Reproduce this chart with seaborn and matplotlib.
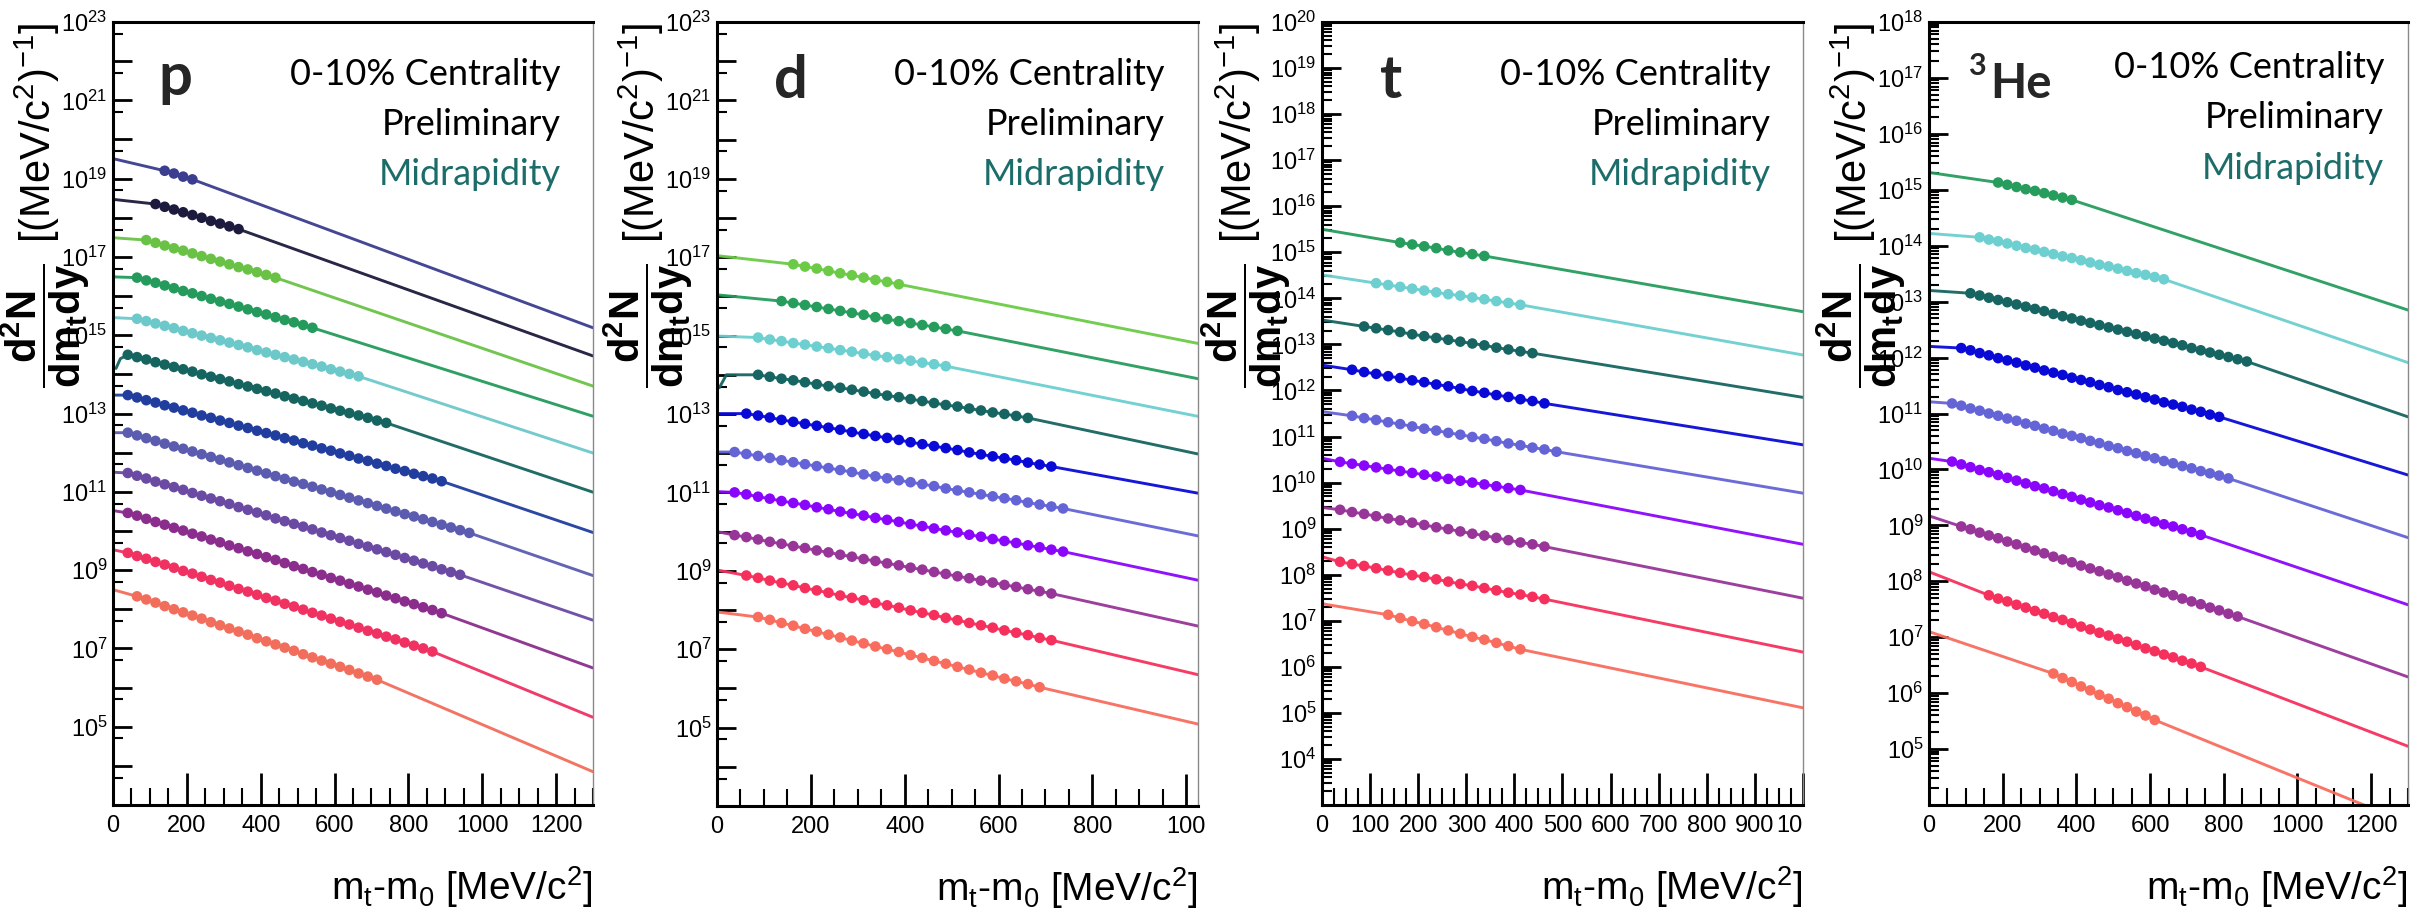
import numpy as np
import pandas as pd
import matplotlib
matplotlib.use("Agg")
import matplotlib.pyplot as plt
import seaborn as sns
from matplotlib import font_manager as fm
from matplotlib.ticker import FixedLocator, FixedFormatter, MultipleLocator, LogLocator, NullFormatter

# ---------------- data (log10 of d2N/dmt dy) ----------------
BIN = 25.0  # MeV, spacing of measured points

# proton
p_head = [[(0, 19.51)], [(0, 18.47)], [(0, 17.49)], [(0, 16.49)], [(0, 15.45)],
          [(8, 14.15), (20, 14.40)], [(0, 13.47)], [(0, 12.51)], [(0, 11.50)],
          [(0, 10.52)], [(0, 9.52)], [(0, 8.50)]]
p_x0 = [140, 115, 90, 65, 65, 40, 40, 40, 40, 40, 40, 65]
p_end = [15.19, 14.47, 13.70, 12.93, 11.99, 10.99, 9.96, 8.86, 7.72, 6.50, 5.24, 3.85]
p_s1 = [19.20, 19.13, 19.05, 18.98]
p_s2 = [18.35, 18.28, 18.21, 18.14, 18.07, 18.00, 17.92, 17.85, 17.78, 17.71]
p_s3 = [17.43, 17.36, 17.29, 17.22, 17.16, 17.09, 17.02, 16.95, 16.88, 16.81, 16.74, 16.68, 16.61, 16.54, 16.47]
p_s4 = [16.47, 16.40, 16.34, 16.27, 16.20, 16.13, 16.07, 16.00, 15.93, 15.86, 15.80, 15.73, 15.66, 15.59,
        15.53, 15.46, 15.39, 15.33, 15.26, 15.19]
p_s5 = [15.42, 15.36, 15.30, 15.24, 15.18, 15.11, 15.05, 14.99, 14.93, 14.87, 14.81, 14.75, 14.69, 14.62,
        14.56, 14.50, 14.44, 14.38, 14.32, 14.26, 14.20, 14.13, 14.07, 14.01, 13.95]
p_s6 = [14.50, 14.44, 14.38, 14.31, 14.25, 14.19, 14.13, 14.07, 14.00, 13.94, 13.88, 13.82, 13.75, 13.69,
        13.63, 13.57, 13.51, 13.44, 13.38, 13.32, 13.26, 13.20, 13.13, 13.07, 13.01, 12.95, 12.89, 12.82, 12.76]
p_s7 = [13.47, 13.41, 13.34, 13.28, 13.21, 13.15, 13.08, 13.02, 12.95, 12.89, 12.82, 12.76, 12.69, 12.63,
        12.56, 12.50, 12.44, 12.37, 12.31, 12.24, 12.18, 12.11, 12.05, 11.98, 11.92, 11.85, 11.79, 11.72,
        11.66, 11.59, 11.53, 11.46, 11.40, 11.34, 11.27]
p_s8 = [12.51, 12.44, 12.37, 12.30, 12.23, 12.16, 12.10, 12.03, 11.96, 11.89, 11.82, 11.75, 11.68, 11.61,
        11.54, 11.47, 11.40, 11.33, 11.26, 11.20, 11.13, 11.06, 10.99, 10.92, 10.85, 10.78, 10.71, 10.64,
        10.57, 10.50, 10.43, 10.37, 10.30, 10.23, 10.16, 10.09, 10.02, 9.95]
p_s9 = [11.48, 11.41, 11.34, 11.26, 11.19, 11.12, 11.05, 10.97, 10.90, 10.83, 10.76, 10.69, 10.61, 10.54,
        10.47, 10.40, 10.32, 10.25, 10.18, 10.11, 10.04, 9.96, 9.89, 9.82, 9.75, 9.67, 9.60, 9.53, 9.46,
        9.39, 9.31, 9.24, 9.17, 9.10, 9.02, 8.95, 8.88]
p_s10 = [10.46, 10.39, 10.31, 10.23, 10.16, 10.08, 10.01, 9.93, 9.86, 9.78, 9.71, 9.63, 9.56, 9.48, 9.41,
         9.33, 9.26, 9.18, 9.10, 9.03, 8.95, 8.88, 8.80, 8.73, 8.65, 8.58, 8.50, 8.43, 8.35, 8.28, 8.20,
         8.13, 8.05, 7.98, 7.90]
p_s11 = [9.44, 9.36, 9.29, 9.21, 9.14, 9.06, 8.98, 8.91, 8.83, 8.75, 8.68, 8.60, 8.52, 8.45, 8.37, 8.29,
         8.22, 8.14, 8.07, 7.99, 7.91, 7.84, 7.76, 7.68, 7.61, 7.53, 7.45, 7.38, 7.30, 7.23, 7.15, 7.07,
         7.00, 6.92]
p_s12 = [8.33, 8.25, 8.17, 8.08, 8.00, 7.92, 7.84, 7.76, 7.67, 7.59, 7.51, 7.43, 7.35, 7.26, 7.18, 7.10,
         7.02, 6.94, 6.85, 6.77, 6.69, 6.61, 6.53, 6.45, 6.36, 6.28, 6.20]
p_colors = ['#3b3d8e', '#1c1b3d', '#69c246', '#249b5c', '#6dc8ca', '#15645f',
            '#213e9e', '#5b5caf', '#6a4aa3', '#8b2d8c', '#ef3262', '#f26e5c']

# deuteron
d_head = [[(0, 17.04)], [(0, 16.04)], [(0, 14.99)], [(5, 13.67), (20, 14.00)], [(0, 13.01)],
          [(0, 12.03)], [(0, 11.02)], [(0, 10.00)], [(0, 9.02)], [(0, 7.95)]]
d_x0 = [162.5, 137.5, 87.5, 87.5, 62.5, 37.5, 37.5, 37.5, 62.5, 87.5]
d_end = [14.80, 13.90, 12.94, 11.98, 10.98, 9.89, 8.76, 7.59, 6.35, 5.09]
d_s1 = [16.82, 16.76, 16.71, 16.65, 16.59, 16.54, 16.48, 16.42, 16.37, 16.31]
d_s2 = [15.88, 15.83, 15.78, 15.73, 15.68, 15.63, 15.58, 15.53, 15.47, 15.42, 15.37, 15.32, 15.27, 15.22,
        15.17, 15.12]
d_s3 = [14.95, 14.90, 14.86, 14.81, 14.77, 14.72, 14.68, 14.63, 14.59, 14.54, 14.49, 14.45, 14.40, 14.36,
        14.31, 14.27, 14.22]
d_s4 = [14.00, 13.95, 13.90, 13.86, 13.81, 13.76, 13.71, 13.67, 13.62, 13.57, 13.52, 13.47, 13.43, 13.38,
        13.33, 13.28, 13.23, 13.19, 13.14, 13.09, 13.04, 13.00, 12.95, 12.90]
d_s5 = [13.01, 12.96, 12.91, 12.85, 12.80, 12.75, 12.70, 12.65, 12.60, 12.54, 12.49, 12.44, 12.39, 12.34,
        12.28, 12.23, 12.18, 12.13, 12.08, 12.02, 11.97, 11.92, 11.87, 11.82, 11.76, 11.71, 11.66]
d_s6 = [12.03, 11.98, 11.93, 11.88, 11.82, 11.77, 11.72, 11.67, 11.62, 11.57, 11.52, 11.46, 11.41, 11.36,
        11.31, 11.26, 11.21, 11.16, 11.10, 11.05, 11.00, 10.95, 10.90, 10.85, 10.80, 10.74, 10.69, 10.64, 10.59]
d_s7 = [11.00, 10.95, 10.89, 10.84, 10.78, 10.73, 10.68, 10.62, 10.57, 10.51, 10.46, 10.41, 10.35, 10.30,
        10.25, 10.19, 10.14, 10.08, 10.03, 9.98, 9.92, 9.87, 9.81, 9.76, 9.71, 9.65, 9.60, 9.54, 9.49]
d_s8 = [9.91, 9.86, 9.80, 9.74, 9.69, 9.63, 9.58, 9.52, 9.47, 9.41, 9.36, 9.30, 9.25, 9.19, 9.14, 9.08,
        9.03, 8.97, 8.92, 8.86, 8.81, 8.75, 8.70, 8.64, 8.59, 8.53, 8.48, 8.42]
d_s9 = [8.88, 8.82, 8.75, 8.69, 8.63, 8.56, 8.50, 8.44, 8.37, 8.31, 8.25, 8.18, 8.12, 8.06, 7.99, 7.93,
        7.87, 7.80, 7.74, 7.67, 7.61, 7.55, 7.48, 7.42, 7.36, 7.29, 7.23]
d_s10 = [7.82, 7.75, 7.67, 7.60, 7.52, 7.45, 7.37, 7.30, 7.22, 7.15, 7.07, 7.00, 6.93, 6.85, 6.78, 6.70,
         6.63, 6.55, 6.48, 6.40, 6.33, 6.25, 6.18, 6.11, 6.03]
d_colors = ['#6bcb47', '#269c5d', '#6dcfcf', '#166562', '#0a0ad6',
            '#6464d6', '#8a06fb', '#983598', '#f6305d', '#f86d5e']

# triton
t_head = [[(0, 15.50)], [(0, 14.51)], [(0, 13.53)], [(0, 12.55)], [(0, 11.54)],
          [(0, 10.53)], [(0, 9.46)], [(0, 8.39)], [(0, 7.37)]]
t_x0 = [162.5, 112.5, 87.5, 62.5, 62.5, 37.5, 37.5, 37.5, 137.5]
t_end = [13.71, 12.77, 11.85, 10.82, 9.77, 8.66, 7.49, 6.32, 5.11]
t_s1 = [15.21, 15.17, 15.13, 15.09, 15.04, 15.00, 14.96, 14.92]
t_s2 = [14.33, 14.29, 14.25, 14.21, 14.17, 14.13, 14.09, 14.06, 14.02, 13.98, 13.94, 13.90, 13.86]
t_s3 = [13.39, 13.35, 13.31, 13.27, 13.22, 13.18, 13.14, 13.10, 13.06, 13.02, 12.98, 12.93, 12.89, 12.85, 12.81]
t_s4 = [12.45, 12.40, 12.36, 12.31, 12.27, 12.22, 12.18, 12.13, 12.09, 12.04, 11.99, 11.95, 11.90, 11.86,
        11.81, 11.77, 11.72]
t_s5 = [11.45, 11.40, 11.36, 11.31, 11.27, 11.22, 11.17, 11.13, 11.08, 11.04, 10.99, 10.95, 10.90, 10.85,
        10.81, 10.76, 10.72, 10.67]
t_s6 = [10.45, 10.41, 10.37, 10.33, 10.29, 10.25, 10.21, 10.17, 10.13, 10.08, 10.04, 10.00, 9.96, 9.92,
        9.88, 9.84]
t_s7 = [9.41, 9.36, 9.32, 9.27, 9.22, 9.18, 9.13, 9.08, 9.03, 8.99, 8.94, 8.89, 8.85, 8.80, 8.75, 8.70,
        8.66, 8.61]
t_s8 = [8.28, 8.23, 8.19, 8.14, 8.09, 8.04, 7.99, 7.95, 7.90, 7.85, 7.80, 7.76, 7.71, 7.66, 7.61, 7.57,
        7.52, 7.47]
t_s9 = [7.13, 7.06, 6.99, 6.93, 6.86, 6.79, 6.72, 6.65, 6.59, 6.52, 6.45, 6.38]
t_colors = d_colors[1:]

# helium-3
h_head = [[(0, 15.31)], [(0, 14.22)], [(0, 13.20)], [(0, 12.20)], [(0, 11.21)],
          [(0, 10.20)], [(0, 9.17)], [(0, 8.17)], [(0, 7.10)]]
h_x0 = [187.5, 137.5, 112.5, 87.5, 62.5, 62.5, 87.5, 162.5, 337.5]
h_end = [12.85, 11.91, 10.94, 9.90, 8.78, 7.58, 6.29, 5.05, 3.68]
h_s1 = [15.13, 15.09, 15.05, 15.01, 14.98, 14.94, 14.90, 14.86, 14.82]
h_s2 = [14.15, 14.11, 14.08, 14.04, 14.00, 13.96, 13.93, 13.89, 13.85, 13.81, 13.78, 13.74, 13.70, 13.66,
        13.63, 13.59, 13.55, 13.51, 13.48, 13.44, 13.40]
h_s3 = [13.15, 13.11, 13.07, 13.03, 12.99, 12.95, 12.91, 12.87, 12.83, 12.78, 12.74, 12.70, 12.66, 12.62,
        12.58, 12.54, 12.50, 12.46, 12.42, 12.38, 12.34, 12.30, 12.26, 12.22, 12.17, 12.13, 12.09, 12.05,
        12.01, 11.97, 11.93]
h_s4 = [12.17, 12.13, 12.08, 12.04, 11.99, 11.95, 11.91, 11.86, 11.82, 11.77, 11.73, 11.69, 11.64, 11.60,
        11.56, 11.51, 11.47, 11.42, 11.38, 11.34, 11.29, 11.25, 11.20, 11.16, 11.12, 11.07, 11.03, 10.98, 10.94]
h_s5 = [11.18, 11.14, 11.09, 11.05, 11.00, 10.96, 10.91, 10.87, 10.82, 10.78, 10.73, 10.69, 10.64, 10.60,
        10.56, 10.51, 10.47, 10.42, 10.38, 10.33, 10.29, 10.24, 10.20, 10.15, 10.11, 10.06, 10.02, 9.97,
        9.93, 9.89, 9.84]
h_s6 = [10.14, 10.09, 10.04, 9.99, 9.95, 9.90, 9.85, 9.80, 9.75, 9.70, 9.66, 9.61, 9.56, 9.51, 9.46, 9.41,
        9.36, 9.32, 9.27, 9.22, 9.17, 9.12, 9.07, 9.02, 8.98, 8.93, 8.88, 8.83]
h_s7 = [8.98, 8.93, 8.87, 8.82, 8.77, 8.71, 8.66, 8.60, 8.55, 8.50, 8.44, 8.39, 8.34, 8.28, 8.23, 8.18,
        8.12, 8.07, 8.01, 7.96, 7.91, 7.85, 7.80, 7.75, 7.69, 7.64, 7.59, 7.53, 7.48, 7.42, 7.37]
h_s8 = [7.75, 7.69, 7.64, 7.58, 7.53, 7.47, 7.42, 7.36, 7.31, 7.25, 7.19, 7.14, 7.08, 7.03, 6.97, 6.92,
        6.86, 6.80, 6.75, 6.69, 6.64, 6.58, 6.53, 6.47]
h_s9 = [6.35, 6.27, 6.20, 6.12, 6.05, 5.97, 5.90, 5.82, 5.75, 5.67, 5.60, 5.52]
h_colors = d_colors[1:]

p_series = [p_s1, p_s2, p_s3, p_s4, p_s5, p_s6, p_s7, p_s8, p_s9, p_s10, p_s11, p_s12]
d_series = [d_s1, d_s2, d_s3, d_s4, d_s5, d_s6, d_s7, d_s8, d_s9, d_s10]
t_series = [t_s1, t_s2, t_s3, t_s4, t_s5, t_s6, t_s7, t_s8, t_s9]
h_series = [h_s1, h_s2, h_s3, h_s4, h_s5, h_s6, h_s7, h_s8, h_s9]

# ---------------- style ----------------
sns.set_style("white")


def has_font(name):
    try:
        fm.findfont(fm.FontProperties(family=name), fallback_to_default=False)
        return True
    except Exception:
        return False


NARROW = "Liberation Sans Narrow" if has_font("Liberation Sans Narrow") else "Liberation Sans"
plt.rcParams["font.family"] = [NARROW, "DejaVu Sans"]
plt.rcParams["mathtext.fontset"] = "custom"
plt.rcParams["mathtext.rm"] = NARROW
plt.rcParams["mathtext.it"] = NARROW
plt.rcParams["mathtext.bf"] = "Liberation Sans:bold"
plt.rcParams["mathtext.sf"] = "Liberation Sans"
TXT = ["Lato", "DejaVu Sans"]

W, H = 2411, 913
fig = plt.figure(figsize=(W / 100, H / 100), dpi=100)
fig.patch.set_facecolor("white")


def add_ax(left_px, width_px, top_px=22, bottom_px=805):
    return fig.add_axes([left_px / W, 1 - bottom_px / H, width_px / W, (bottom_px - top_px) / H])


def draw_series(ax, xmax, heads, x0s, series, ends, colors):
    for head, x0, vals, end, col in zip(heads, x0s, series, ends, colors):
        xs = x0 + BIN * np.arange(len(vals))
        lx = [h[0] for h in head] + list(xs) + [xmax]
        lv = [h[1] for h in head] + list(vals) + [end]
        df = pd.DataFrame({"x": lx, "y": np.power(10.0, lv)})
        sns.lineplot(data=df, x="x", y="y", ax=ax, color=col, linewidth=2.1,
                     estimator=None, sort=False, alpha=0.95, zorder=2)
        dm = pd.DataFrame({"x": xs, "y": np.power(10.0, vals)})
        sns.scatterplot(data=dm, x="x", y="y", ax=ax, color=col, s=58, marker="o",
                        edgecolor="none", linewidth=0, zorder=3)


def style_axes(ax, xmax, ylo, yhi, lab_exps, xmaj, xlabels, xminor, dense):
    ax.set_yscale("log")
    ax.set_xlim(0, xmax)
    ax.set_ylim(10.0 ** ylo, 10.0 ** yhi)
    dec = list(range(ylo, yhi + 1))
    ax.yaxis.set_major_locator(FixedLocator([10.0 ** k for k in dec]))
    ax.yaxis.set_major_formatter(FixedFormatter(
        [(r"$10^{%d}$" % k) if k in lab_exps else "" for k in dec]))
    if dense:
        ax.yaxis.set_minor_locator(LogLocator(base=10, subs=np.arange(2, 10), numticks=200))
    else:
        ax.yaxis.set_minor_locator(FixedLocator([5 * 10.0 ** k for k in dec]))
    ax.yaxis.set_minor_formatter(NullFormatter())
    ax.xaxis.set_major_locator(FixedLocator(xmaj))
    ax.xaxis.set_major_formatter(FixedFormatter(xlabels))
    ax.xaxis.set_minor_locator(MultipleLocator(xminor))
    ax.tick_params(axis="both", which="both", direction="in", top=False, right=False,
                   left=True, bottom=True, colors="black")
    ax.tick_params(axis="y", which="major", length=14, width=2, pad=4, labelsize=17)
    ax.tick_params(axis="y", which="minor", length=7, width=1.5)
    ax.tick_params(axis="x", which="major", length=23, width=2, pad=7, labelsize=17)
    ax.tick_params(axis="x", which="minor", length=12, width=1.5)
    for s in ["left", "bottom", "top"]:
        ax.spines[s].set_linewidth(2.2)
        ax.spines[s].set_color("black")
    ax.spines["right"].set_linewidth(1.0)
    ax.spines["right"].set_color("#8a8a8a")
    ax.grid(False)
    ax.set_xlabel("")
    ax.set_ylabel("")
    ax.set_facecolor("white")


YFRAC = r"$\dfrac{\mathbf{d^{2}N}}{\mathbf{dm_{t}dy}}$"
YUNIT = r"$\mathsf{[(MeV/c^{2})^{-1}]}$"
XLAB = r"m$_{t}$-m$_{0}$ [MeV/c$^{2}$]"


def common_text(ax, xr, y0, dy, lab_dx=0.0):
    ax.text(xr, y0, "0-10% Centrality", transform=ax.transAxes, ha="right", va="baseline",
            fontsize=26, family=TXT, color="black")
    ax.text(xr, y0 - dy, "Preliminary", transform=ax.transAxes, ha="right", va="baseline",
            fontsize=26, family=TXT, color="black")
    ax.text(xr, y0 - 2 * dy, "Midrapidity", transform=ax.transAxes, ha="right", va="baseline",
            fontsize=26, family=TXT, color="#1c6d69")
    ax.text(-0.142 + lab_dx, 0.612, YFRAC, transform=ax.transAxes, rotation=90, ha="center",
            va="center", fontsize=30, color="black")
    ax.text(-0.158 + lab_dx, 0.999, YUNIT, transform=ax.transAxes, rotation=90, ha="center",
            va="top", fontsize=30, color="black")
    ax.text(1.0, -0.121, XLAB, transform=ax.transAxes, ha="right", va="baseline",
            fontsize=28, color="black")


# ---------------- p ----------------
ax = add_ax(113, 480)
draw_series(ax, 1300, p_head, p_x0, p_series, p_end, p_colors)
style_axes(ax, 1300, 3, 23, list(range(5, 24, 2)), [0, 200, 400, 600, 800, 1000, 1200],
           ["0", "200", "400", "600", "800", "1000", "1200"], 50, False)
common_text(ax, 0.933, 0.9195, 0.0638)
ax.text(0.094, 0.907, "p", transform=ax.transAxes, ha="left", va="baseline",
        fontsize=43, family=TXT, fontweight="bold")

# ---------------- d ----------------
ax = add_ax(717, 481, bottom_px=806)
draw_series(ax, 1025, d_head, d_x0, d_series, d_end, d_colors)
style_axes(ax, 1025, 3, 23, list(range(5, 24, 2)), [0, 200, 400, 600, 800, 1000],
           ["0", "200", "400", "600", "800", "100"], 50, False)
common_text(ax, 0.931, 0.9195, 0.0638)
ax.text(0.118, 0.903, "d", transform=ax.transAxes, ha="left", va="baseline",
        fontsize=43, family=TXT, fontweight="bold")

# ---------------- t ----------------
ax = add_ax(1322, 481)
draw_series(ax, 1000, t_head, t_x0, t_series, t_end, t_colors)
style_axes(ax, 1000, 3, 20, list(range(4, 21)), list(range(0, 1001, 100)),
           ["0", "100", "200", "300", "400", "500", "600", "700", "800", "900", "10"], 25, True)
ax.get_xticklabels()[-1].set_horizontalalignment("right")
common_text(ax, 0.933, 0.9195, 0.0638, lab_dx=-0.016)
ax.text(0.12, 0.903, "t", transform=ax.transAxes, ha="left", va="baseline",
        fontsize=43, family=TXT, fontweight="bold")

# ---------------- 3He ----------------
ax = add_ax(1929, 479)
draw_series(ax, 1300, h_head, h_x0, h_series, h_end, h_colors)
style_axes(ax, 1300, 4, 18, list(range(5, 19)), [0, 200, 400, 600, 800, 1000, 1200],
           ["0", "200", "400", "600", "800", "1000", "1200"], 50, True)
common_text(ax, 0.95, 0.928, 0.064)
ax.text(0.081, 0.932, "3", transform=ax.transAxes, ha="left", va="baseline",
        fontsize=22, family=TXT, fontweight="bold")
ax.text(0.128, 0.903, "He", transform=ax.transAxes, ha="left", va="baseline",
        fontsize=34, family=TXT, fontweight="bold")

fig.savefig("out.png", dpi=100, facecolor="white")
